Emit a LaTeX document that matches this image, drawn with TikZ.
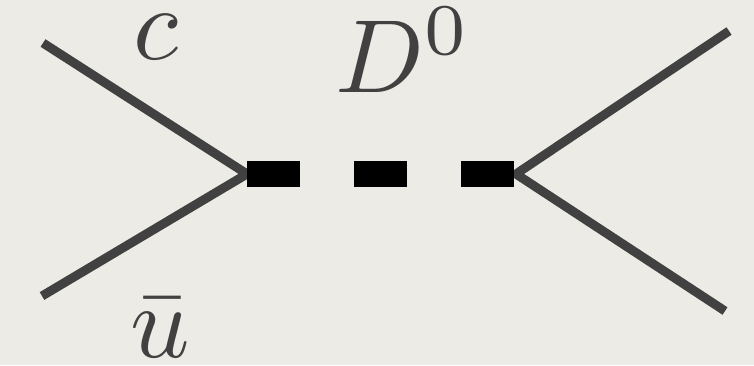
\documentclass[tikz,border=0pt]{standalone}
\definecolor{paper}{HTML}{EDEBE6}
\definecolor{quark}{HTML}{414141}
\tikzset{
    fermion/.style={draw=quark, line width=9pt, line join=miter},
    meson/.style={draw=black, line width=26pt, dash pattern=on 53pt off 54pt},
    flavour/.style={text=quark, inner sep=0pt, scale=10.4, transform shape}
}

\begin{document}
\begin{tikzpicture}[x=1pt, y=-1pt]
    \fill[paper] (0,0) rectangle (754,365);
    \useasboundingbox (0,0) rectangle (754,365);
    % vertices and free ends
    \coordinate (vl) at (247,174);
    \coordinate (vr) at (516,174);
    \coordinate (cin) at (43,43);
    \coordinate (uin) at (42,296);
    \coordinate (qout) at (729,31);
    \coordinate (pout) at (725,311);
    \draw[fermion] (cin) -- (vl) -- (uin);
    \draw[fermion] (qout) -- (vr) -- (pout);
    \draw[meson] (vl) -- (vr);
    % labels
    \node[flavour] (c) at (156,37) {$c$};
    \node[flavour] (ubar) at (160,328) {$\bar{u}$};
    \node[flavour] (D) at (403,50) {$D^0$};
\end{tikzpicture}
\end{document}
